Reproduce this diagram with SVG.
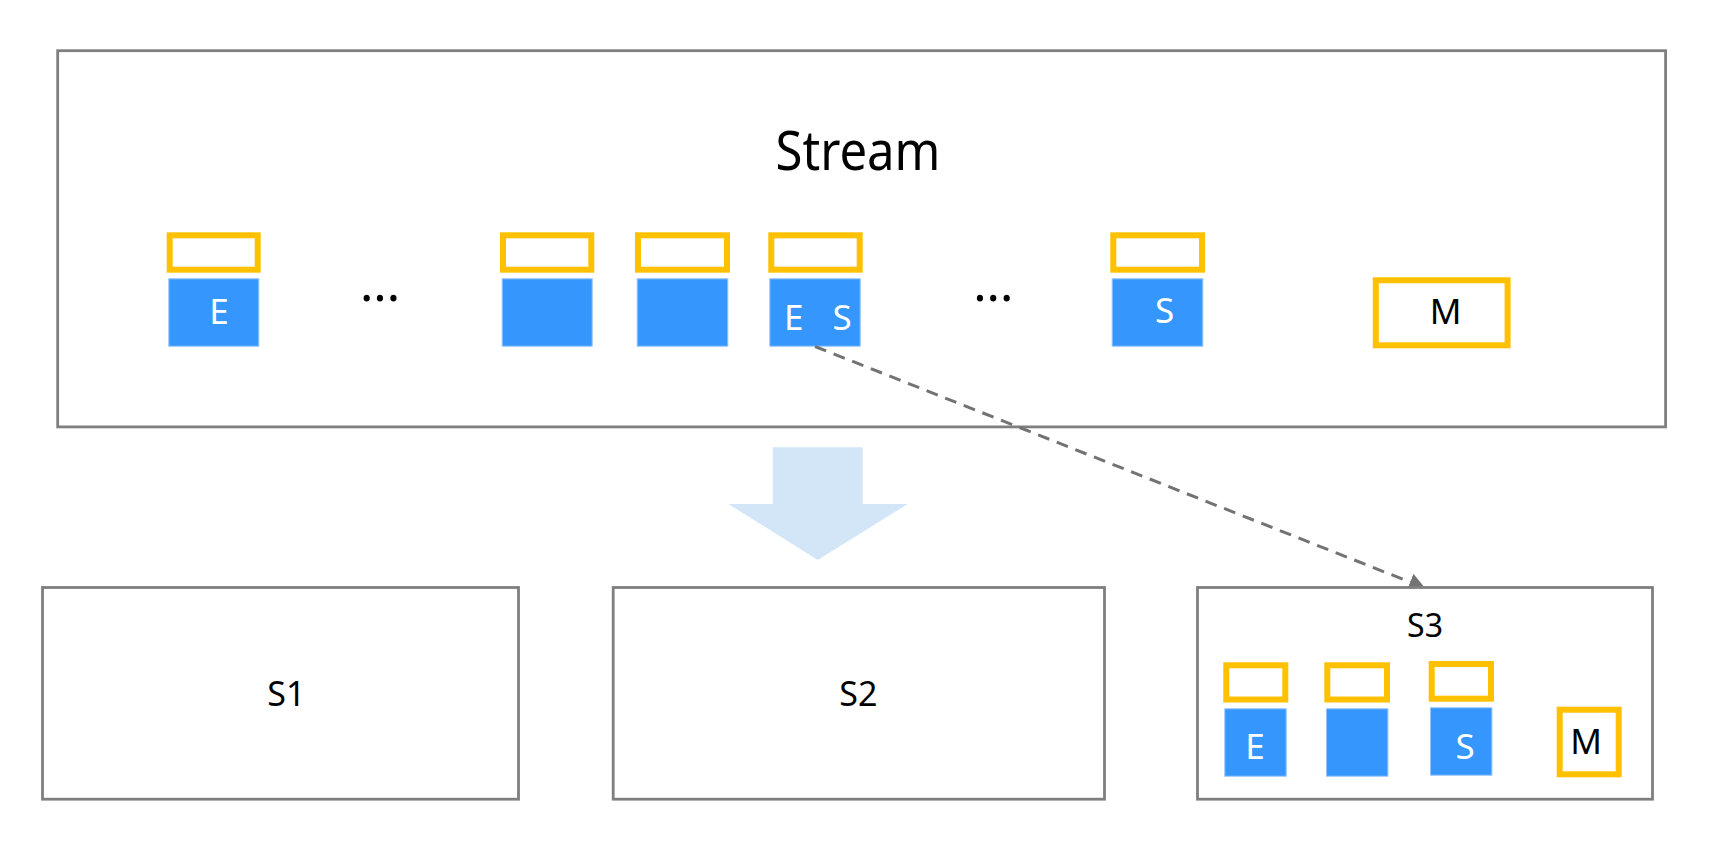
<svg xmlns="http://www.w3.org/2000/svg" width="1711" height="865" viewBox="0 0 1711 865">
  <style>
    .frame { fill: #ffffff; stroke: #7f7f7f; stroke-width: 2.8; }
    .slot { fill: #ffffff; stroke: #ffc000; stroke-width: 6; }
    .blk { fill: #3597fe; stroke: #92c4ff; stroke-width: 1; }
    .txt { font-family: "Noto Sans", "Open Sans", "DejaVu Sans", sans-serif; fill: #000000; text-anchor: middle; }
    .wt { font-family: "Noto Sans", "Open Sans", "DejaVu Sans", sans-serif; fill: #ffffff; text-anchor: middle; font-size: 35px; }
    .bk { font-size: 35px; }
    .lbl { font-size: 34px; }
    .dots { font-size: 50px; }
    .dash { fill: none; stroke: #737373; stroke-width: 3; stroke-dasharray: 12 8; }
    .bigarrow { fill: #d2e6f8; }
  </style>
  <defs>
    <marker id="tri" markerUnits="userSpaceOnUse" viewBox="0 0 16 18" refX="16" refY="9" markerWidth="16" markerHeight="18" orient="auto">
      <path d="M0,0 L16,9 L0,18 z" fill="#737373"/>
    </marker>
  </defs>
  <rect x="0" y="0" width="1711" height="865" fill="#ffffff"/>

  <g id="stream">
    <rect class="frame" x="57.7" y="50.7" width="1607.9" height="376.2"/>
    <text class="txt" x="858" y="169.5" font-size="54" textLength="165" lengthAdjust="spacingAndGlyphs">Stream</text>
    <g id="stream-item1">
      <rect class="slot" x="169.7" y="235.3" width="88" height="34.4"/>
      <rect class="blk" x="168.8" y="278.8" width="90" height="67.4"/>
      <text class="wt" x="219" y="324.3">E</text>
    </g>
    <text class="txt dots" x="380" y="300.5">...</text>
    <g id="stream-item2">
      <rect class="slot" x="503" y="235.3" width="88.3" height="34.4"/>
      <rect class="blk" x="502.2" y="278.8" width="90" height="67.4"/>
    </g>
    <g id="stream-item3">
      <rect class="slot" x="638" y="235.3" width="89" height="34.4"/>
      <rect class="blk" x="637.2" y="278.8" width="90.6" height="67.4"/>
    </g>
    <g id="stream-item4">
      <rect class="slot" x="771.3" y="235.3" width="88.4" height="34.4"/>
      <rect class="blk" x="769.8" y="278.8" width="90.4" height="67.4"/>
      <text class="wt" x="793.7" y="330">E</text>
      <text class="wt" x="842" y="330">S</text>
    </g>
    <text class="txt dots" x="993.3" y="300.5">...</text>
    <g id="stream-item5">
      <rect class="slot" x="1113.3" y="235.3" width="88.7" height="34.4"/>
      <rect class="blk" x="1112.2" y="278.8" width="90.6" height="67.4"/>
      <text class="wt" x="1164.5" y="323.3">S</text>
    </g>
    <g id="stream-marker">
      <rect class="slot" x="1375.8" y="280.3" width="131.8" height="65"/>
      <text class="txt bk" x="1445.5" y="324">M</text>
    </g>
  </g>

  <g id="connectors">
    <polygon class="bigarrow" points="772.7,447.3 862.7,447.3 862.7,504 907.7,504 817.7,560 728.3,504 772.7,504"/>
    <line class="dash" x1="815" y1="346.5" x2="1425" y2="588" marker-end="url(#tri)"/>
  </g>

  <g id="s1">
    <rect class="frame" x="42.5" y="587.5" width="476" height="211.7"/>
    <text class="txt lbl" x="286.3" y="706">S1</text>
  </g>

  <g id="s2">
    <rect class="frame" x="613.2" y="587.5" width="491.3" height="211.7"/>
    <text class="txt lbl" x="858.3" y="706">S2</text>
  </g>

  <g id="s3">
    <rect class="frame" x="1197.5" y="587.5" width="455" height="211.7"/>
    <text class="txt" x="1425" y="636.7" font-size="32">S3</text>
    <g id="s3-item1">
      <rect class="slot" x="1226.3" y="665.3" width="59" height="34.2"/>
      <rect class="blk" x="1224.8" y="708.8" width="61.4" height="67.4"/>
      <text class="wt" x="1255" y="758.7">E</text>
    </g>
    <g id="s3-item2">
      <rect class="slot" x="1327.3" y="665.3" width="59.7" height="34.2"/>
      <rect class="blk" x="1326.5" y="708.8" width="61.4" height="67.4"/>
    </g>
    <g id="s3-item3">
      <rect class="slot" x="1431.7" y="664" width="59.3" height="34.7"/>
      <rect class="blk" x="1430.5" y="707.8" width="61.4" height="67.4"/>
      <text class="wt" x="1465" y="759.3">S</text>
    </g>
    <g id="s3-marker">
      <rect class="slot" x="1559.7" y="709.7" width="59" height="64.6"/>
      <text class="txt bk" x="1586" y="754.3">M</text>
    </g>
  </g>
</svg>
